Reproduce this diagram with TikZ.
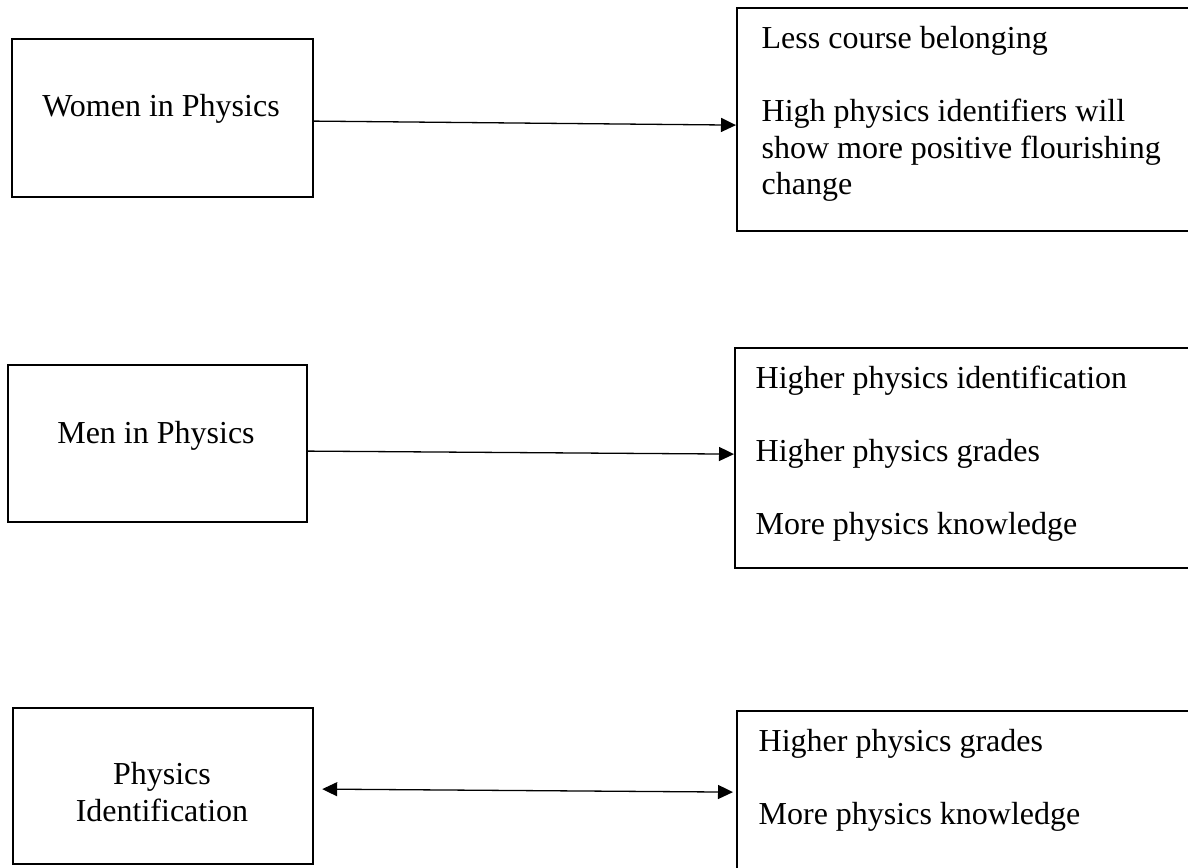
\documentclass[tikz,border=0pt]{standalone}
\usepackage{fontspec}
\setmainfont{Liberation Serif}
\usepackage{tikz}
\usetikzlibrary{arrows.meta,positioning}

\newcommand{\diagfont}{\fontsize{16}{18.25}\selectfont}

\begin{document}
\begin{tikzpicture}[x=0.5pt,y=-0.5pt,>={Triangle[length=7.5pt,width=7pt]},line width=0.65pt,
  box/.style={draw,line width=1.1pt,inner sep=0pt,anchor=north west},
  txt/.style={inner sep=0pt,font=\diagfont}]

\useasboundingbox (0,0) rectangle (1188,867);
\clip (0,0) rectangle (1188,867);

% left boxes
\node[box,minimum width=150.5pt,minimum height=79pt] (women) at (11,38) {};
\node[box,minimum width=149.5pt,minimum height=78.5pt] (men) at (7,364) {};
\node[box,minimum width=150pt,minimum height=78pt] (ident) at (12,707) {};

% right boxes (cut off at the page edge)
\node[box,minimum width=260pt,minimum height=111.5pt] (res1) at (736,7) {};
\node[box,minimum width=260pt,minimum height=110pt] (res2) at (734,347) {};
\node[box,minimum width=260pt,minimum height=85pt] (res3) at (736,710) {};

% texts
\node[txt,anchor=base] (womentxt) at (161,116) {Women in Physics};
\node[txt,anchor=base] (mentxt) at (156,443) {Men in Physics};
\node[txt,anchor=north,align=center] (identtxt) at (162,762) {Physics\\Identification};

\node[txt,anchor=north west,align=left] (res1txt) at (761,26)
  {Less course belonging\\[18.25pt]High physics identifiers will\\show more positive flourishing\\change};
\node[txt,anchor=north west,align=left] (res2txt) at (755,365)
  {Higher physics identification\\[18.25pt]Higher physics grades\\[18.25pt]More physics knowledge};
\node[txt,anchor=north west,align=left] (res3txt) at (758,729)
  {Higher physics grades\\[18.25pt]More physics knowledge};

% arrows
\draw[->] ([yshift=-1.5pt]women.east) -- ([yshift=-2.75pt]res1.west);
\draw[->] ([yshift=-3.75pt]men.east) -- ([yshift=2pt]res2.west);
\draw[<->] ([xshift=4pt,yshift=-1.5pt]ident.east) -- ([xshift=-1.5pt,yshift=2pt]res3.west);
\end{tikzpicture}
\end{document}
